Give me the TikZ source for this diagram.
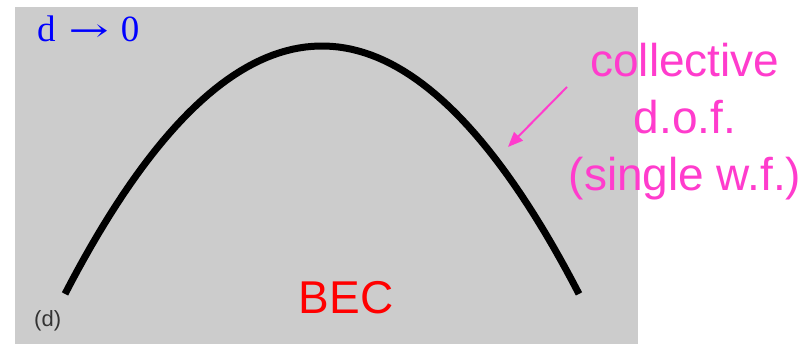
\documentclass[tikz,border=0pt]{standalone}
\usepackage{fontspec}
\setmainfont{Liberation Serif}
\newfontfamily\arialf{Liberation Sans}
\newfontfamily\dvserif{DejaVu Serif}
\usetikzlibrary{arrows.meta}
\definecolor{bggray}{RGB}{204,204,204}
\definecolor{mag}{RGB}{255,60,205}
\definecolor{bluet}{RGB}{0,0,255}
\begin{document}
\begin{tikzpicture}[x=1pt,y=-1pt,
  magtext/.style={text=mag,font=\arialf\fontsize{46}{46}\selectfont,anchor=base,inner sep=0pt},
  curve/.style={line width=7pt,black,line join=round}]
\useasboundingbox (0,0) rectangle (812,344);
\fill[white] (0,0) rectangle (812,344);
\fill[bggray] (15,7) rectangle (638,344);
\draw[curve,domain=65:579,samples=80,variable=\x] plot (\x,{46+0.00375*(\x-322)*(\x-322)});
\node[anchor=base west,inner sep=0pt,text=bluet,font=\fontsize{37}{37}\selectfont] (dz) at (37,42) {d\hspace{13pt}{\dvserif\fontsize{32}{32}\selectfont\scalebox{1.5}[1]{→}}\hspace{12pt}0};
\node[anchor=base west,inner sep=0pt,text=black!80,font=\arialf\fontsize{22}{22}\selectfont] (lab) at (34,327) {(d)};
\node[anchor=base,inner sep=0pt,text=red,font=\arialf\fontsize{46}{46}\selectfont] (bec) at (346,314) {BEC};
\node[magtext] (l1) at (685,77) {collective};
\node[magtext] (l2) at (685,134) {d.o.f.};
\node[magtext] (l3) at (685,191) {(single w.f.)};
\coordinate (as) at (567,87);
\coordinate (ae) at (508,147);
\draw[mag,line width=2pt,-{Triangle[length=15pt,width=12pt]}] (as) -- (ae);
\end{tikzpicture}
\end{document}
